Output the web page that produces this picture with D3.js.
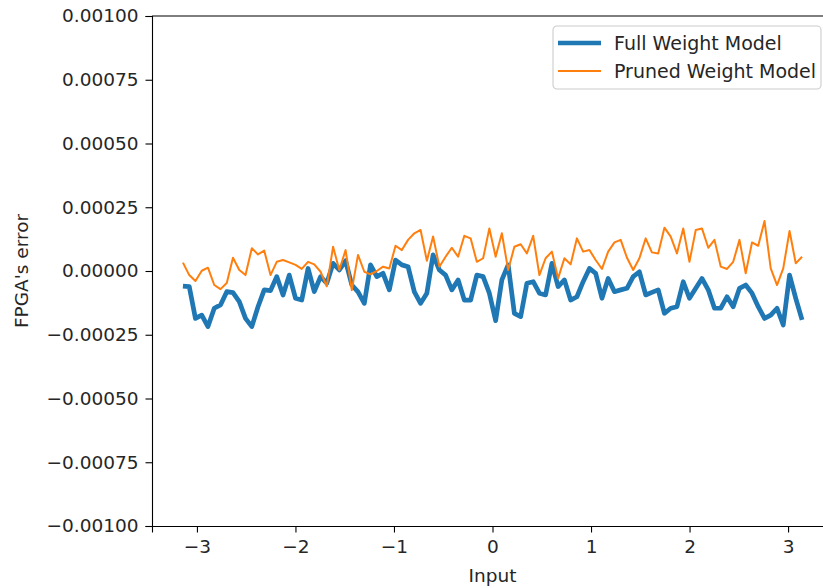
<!DOCTYPE html>
<html>
<head>
<meta charset="utf-8">
<script src="https://cdn.jsdelivr.net/npm/d3@7"></script>
<style>
  body { margin: 0; background: #fff; }
  svg text { font-family: "DejaVu Sans", sans-serif; fill: #262626; }
</style>
</head>
<body>
<div id="chart"></div>
<script>
// sampled inputs (linspace -pi..pi, 100 points)
var inputs = [-3.142,-3.078,-3.015,-2.951,-2.888,-2.824,-2.761,-2.697,-2.634,-2.570,
  -2.507,-2.443,-2.380,-2.317,-2.253,-2.190,-2.126,-2.063,-1.999,-1.936,
  -1.872,-1.809,-1.745,-1.682,-1.618,-1.555,-1.491,-1.428,-1.365,-1.301,
  -1.238,-1.174,-1.111,-1.047,-0.984,-0.920,-0.857,-0.793,-0.730,-0.666,
  -0.603,-0.539,-0.476,-0.413,-0.349,-0.286,-0.222,-0.159,-0.095,-0.032,
  0.032,0.095,0.159,0.222,0.286,0.349,0.413,0.476,0.539,0.603,
  0.666,0.730,0.793,0.857,0.920,0.984,1.047,1.111,1.174,1.238,
  1.301,1.365,1.428,1.491,1.555,1.618,1.682,1.745,1.809,1.872,
  1.936,1.999,2.063,2.126,2.190,2.253,2.317,2.380,2.443,2.507,
  2.570,2.634,2.697,2.761,2.824,2.888,2.951,3.015,3.078,3.142];

// errors in units of 1e-5
var fullErr = [-5.9,-6.1,-18.6,-17.3,-21.8,-14.6,-13.3,-8.1,-8.5,-12.0,
  -18.6,-21.8,-14.0,-7.4,-7.7,-2.2,-9.4,-1.6,-10.7,-11.4,
  1.0,-8.1,-2.2,-4.8,3.0,0.4,4.0,-5.5,-8.2,-12.7,
  2.4,-2.2,-0.9,-7.4,4.3,2.4,1.7,-8.2,-12.7,-8.7,
  6.3,0.4,-1.6,-7.4,-3.5,-11.4,-11.4,-1.6,-2.2,-8.7,
  -19.5,-3.5,2.4,-16.6,-17.9,-4.8,-4.2,-8.7,-9.4,3.0,
  -6.1,-3.5,-11.4,-10.1,-4.2,1.0,-0.9,-10.7,-2.9,-8.1,
  -7.4,-6.8,-2.2,-0.3,-9.4,-8.4,-7.4,-16.6,-14.6,-14.0,
  -4.2,-10.7,-6.8,-2.9,-7.4,-14.6,-14.6,-10.1,-14.0,-6.8,
  -5.5,-8.7,-14.0,-18.6,-17.3,-14.6,-21.2,-1.6,-10.7,-19.2];

var prunedErr = [3.3,-1.6,-3.9,0.1,1.3,-5.5,-7.1,-4.7,5.2,0.4,
  -1.6,8.9,6.5,8.0,-1.6,3.6,4.3,3.4,2.4,0.8,
  3.6,2.6,-0.3,-6.0,9.5,0.4,8.2,-7.5,6.3,-0.3,
  -1.3,0.0,1.7,1.0,9.9,8.2,12.2,14.8,16.1,4.0,
  13.5,1.7,5.6,9.1,5.6,13.8,12.8,3.6,5.0,16.7,
  5.6,14.8,0.4,9.5,10.5,6.9,13.8,-1.6,5.0,7.6,
  -2.9,5.0,2.6,12.8,7.6,8.2,4.3,0.8,7.6,11.2,
  12.2,5.2,0.4,5.0,12.8,7.3,6.9,17.0,13.5,6.9,
  16.7,3.6,16.1,16.7,9.1,12.2,1.7,0.8,3.6,12.2,
  -0.9,11.2,9.9,19.6,1.0,-5.5,1.0,15.7,3.0,5.6];

var seriesNames = ["Full Weight Model", "Pruned Weight Model"];
var seriesColors = ["#1f77b4", "#ff7f0e"];
var xTicks = [-3, -2, -1, 0, 1, 2, 3];
var yTicks = [-0.001, -0.00075, -0.0005, -0.00025, 0, 0.00025, 0.0005, 0.00075, 0.001];

var W = 823, H = 588;
var padL = 152, padT = 16, padB = 526, padR = 833;

var svg = d3.select("#chart").append("svg")
    .attr("width", W)
    .attr("height", H);

var x = d3.scaleLinear().domain([-3.456, 3.456]).range([padL, padR]);
var y = d3.scaleLinear().domain([-0.001, 0.001]).range([padB, padT]);

var series = [fullErr, prunedErr].map(function(arr, k) {
    return {
        name: seriesNames[k],
        color: seriesColors[k],
        width: k == 0 ? 4.7 : 2,
        pts: arr.map(function(v, i) { return [inputs[i], v * 1e-5]; })
    };
});

var line = d3.line()
    .x(function(d) { return x(d[0]); })
    .y(function(d) { return y(d[1]); });

svg.selectAll(".series")
    .data(series)
    .enter()
    .append("path")
    .attr("class", "series")
    .attr("fill", "none")
    .attr("stroke", function(d) { return d.color; })
    .attr("stroke-width", function(d) { return d.width; })
    .attr("stroke-linejoin", "round")
    .attr("stroke-linecap", "butt")
    .attr("d", function(d) { return line(d.pts); });

// axes
var fmtY = d3.format(".5f");
var xAxis = svg.append("g")
    .attr("transform", "translate(0," + padB + ")")
    .call(d3.axisBottom(x).tickValues(xTicks).tickSizeOuter(0).tickSize(6.5).tickPadding(7)
        .tickFormat(d3.format("d")));
var yAxis = svg.append("g")
    .attr("transform", "translate(" + padL + ",0)")
    .call(d3.axisLeft(y).tickValues(yTicks).tickSizeOuter(0).tickSize(6.5).tickPadding(7)
        .tickFormat(function(d) { return fmtY(d); }));

[xAxis, yAxis].forEach(function(g) {
    g.select(".domain").attr("stroke", "#000").attr("stroke-width", 1.1);
    g.selectAll(".tick line").attr("stroke", "#000").attr("stroke-width", 1.1);
    g.selectAll(".tick text").style("font-size", "18.5px").attr("fill", "#262626")
        .style("font-family", "'DejaVu Sans', sans-serif");
});

// top and right spines
svg.append("line").attr("x1", padL).attr("x2", padR).attr("y1", padT).attr("y2", padT)
    .attr("stroke", "#000").attr("stroke-width", 1.1);
svg.append("line").attr("x1", padR).attr("x2", padR).attr("y1", padT).attr("y2", padB)
    .attr("stroke", "#000").attr("stroke-width", 1.1);

// axis labels
svg.append("text")
    .attr("x", x(0))
    .attr("y", 582)
    .attr("text-anchor", "middle")
    .style("font-size", "18.5px")
    .text("Input");

svg.append("text")
    .attr("transform", "translate(28," + ((padT + padB) / 2) + ") rotate(-90)")
    .attr("text-anchor", "middle")
    .style("font-size", "18.5px")
    .text("FPGA's error");

// legend
var lg = svg.append("g").attr("transform", "translate(553,26)");
lg.append("rect")
    .attr("width", 268).attr("height", 63)
    .attr("rx", 4)
    .attr("fill", "#fff").attr("fill-opacity", 0.8)
    .attr("stroke", "#ccc").attr("stroke-width", 1.1);

var items = lg.selectAll(".item")
    .data(series)
    .enter()
    .append("g")
    .attr("class", "item")
    .attr("transform", function(d, i) { return "translate(0," + (17 + i * 28) + ")"; });

items.append("line")
    .attr("x1", 5).attr("x2", 48)
    .attr("stroke", function(d) { return d.color; })
    .attr("stroke-width", function(d) { return d.width; });

items.append("text")
    .attr("x", 61)
    .attr("dy", "0.35em")
    .style("font-size", "19px")
    .text(function(d) { return d.name; });
</script>
</body>
</html>
